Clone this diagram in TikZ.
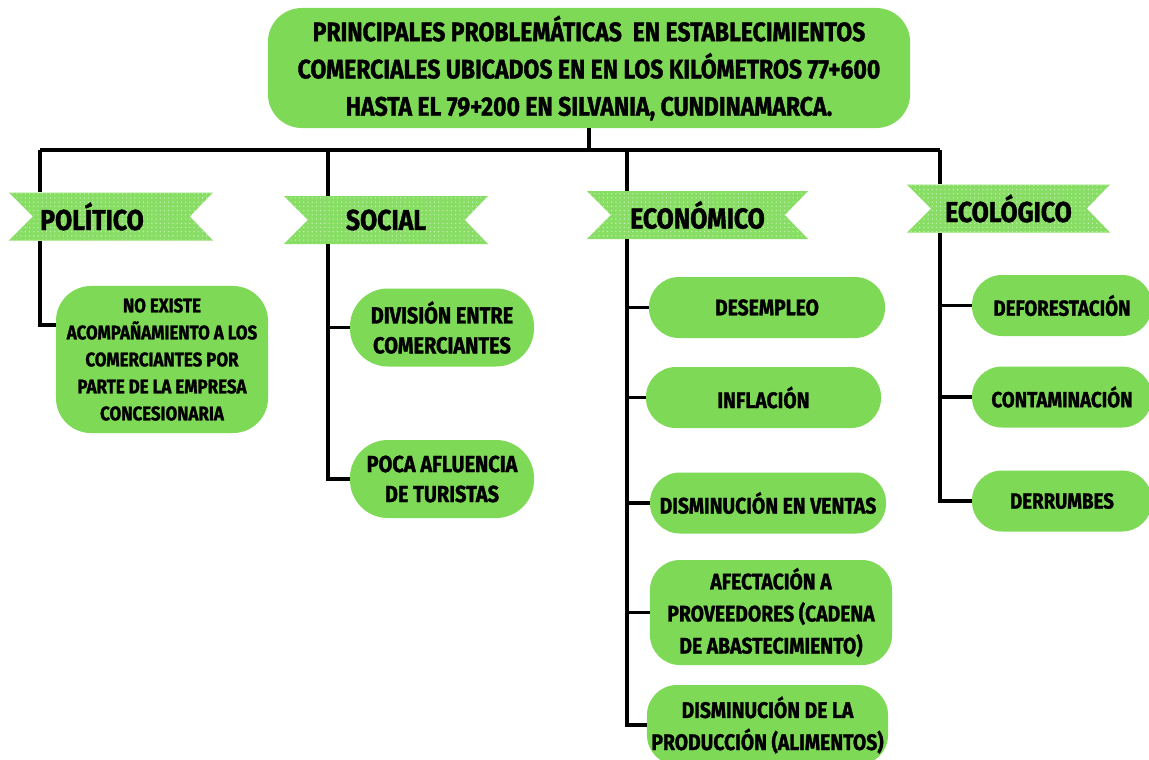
\documentclass[tikz,border=0pt]{standalone}
\usepackage{fontspec}
\usetikzlibrary{patterns}
\newfontfamily\probfont{Fira Sans}[FakeStretch=0.86, BoldFeatures={FakeBold=1.3}]
\definecolor{boxgreen}{RGB}{126,217,87}
\definecolor{bandgreen}{RGB}{136,222,100}

\tikzset{
  branch/.style={line width=2.6pt, black},
  topbox/.style={fill=boxgreen, rounded corners=0.85cm, minimum width=16.05cm, minimum height=3cm,
    align=center, font=\probfont\bfseries\fontsize{19}{26.5}\selectfont},
  band/.style={minimum height=1.2cm, font=\probfont\bfseries\fontsize{20.5}{24}\selectfont,
    path picture={
      \fill[bandgreen, postaction={pattern=dots, pattern color=white!55!bandgreen}]
        (path picture bounding box.north west) -- (path picture bounding box.north east)
        -- ([xshift=-0.58cm]path picture bounding box.east) -- (path picture bounding box.south east)
        -- (path picture bounding box.south west) -- ([xshift=0.6cm]path picture bounding box.west) -- cycle;
    }},
  item/.style={fill=boxgreen, align=center, inner sep=2pt},
  polbox/.style={item, rounded corners=0.875cm, minimum width=5.3cm, minimum height=3.675cm,
    font=\probfont\bfseries\fontsize{14}{19.2}\selectfont},
  socbox/.style={item, rounded corners=0.95cm, minimum width=4.6cm, minimum height=1.95cm,
    font=\probfont\bfseries\fontsize{16.5}{21.3}\selectfont},
  ecobox/.style={item, rounded corners=0.75cm, minimum height=1.525cm,
    font=\probfont\bfseries\fontsize{16}{22.8}\selectfont},
  eclbox/.style={item, rounded corners=0.75cm, minimum width=4.5cm, minimum height=1.525cm,
    font=\probfont\bfseries\fontsize{15.5}{20}\selectfont},
}

\begin{document}
\begin{tikzpicture}[x=0.025cm, y=-0.025cm]
        \path[use as bounding box, fill=white] (0,0) rectangle (1149,759);

        % Title
        \node[topbox] (title) at (589,68) {PRINCIPALES PROBLEMÁTICAS\ \ EN ESTABLECIMIENTOS\\COMERCIALES UBICADOS EN EN LOS KILÓMETROS 77+600\\HASTA EL 79+200 EN SILVANIA, CUNDINAMARCA.};

        % Banners
        \node[band, minimum width=5.1cm] (pol) at (111,216.5) {POLÍTICO\hspace*{0.95cm}};
        \node[band, minimum width=5.1cm] (soc) at (386,220) {SOCIAL};
        \node[band, minimum width=5.525cm] (eco) at (697.5,215) {ECONÓMICO};
        \node[band, minimum width=5.075cm] (ecl) at (1008.5,208.5) {ECOLÓGICO};

        % Boxes
        \node[polbox] (nopol) at (162,359.5) {NO EXISTE\\ACOMPAÑAMIENTO A LOS\\COMERCIANTES POR\\PARTE DE LA EMPRESA\\CONCESIONARIA};
        \node[socbox] (soc1) at (442,327.5) {DIVISIÓN ENTRE\\COMERCIANTES};
        \node[socbox] (soc2) at (442,479) {POCA AFLUENCIA\\DE TURISTAS};
        \node[ecobox, minimum width=5.9cm] (eco1) at (767,307.5) {DESEMPLEO};
        \node[ecobox, minimum width=5.875cm] (eco2) at (763.5,397.5) {INFLACIÓN};
        \node[ecobox, minimum width=5.9cm] (eco3) at (768,503) {DISMINUCIÓN EN VENTAS};
        \node[ecobox, minimum width=6.05cm, minimum height=2.625cm] (eco4) at (771,612.5) {AFECTACIÓN A\\PROVEEDORES (CADENA\\DE ABASTECIMIENTO)};
        \node[ecobox, minimum width=6.025cm, minimum height=2.0cm] (eco5) at (767.5,725) {DISMINUCIÓN DE LA\\PRODUCCIÓN (ALIMENTOS)};
        \node[eclbox] (ecl1) at (1062,305.5) {DEFORESTACIÓN};
        \node[eclbox] (ecl2) at (1062,397) {CONTAMINACIÓN};
        \node[eclbox] (ecl3) at (1062,501) {DERRUMBES};

        % Bus
        \coordinate (bpol) at (40,150);
        \coordinate (bsoc) at (328,150);
        \coordinate (beco) at (627,150);
        \coordinate (becl) at (940,150);
        \draw[branch] (title.south) -- (title.south |- bpol);
        \draw[branch] (bpol) -- (becl);
        \draw[branch] (bpol) -- (bpol |- pol.north);
        \draw[branch] (bsoc) -- (bsoc |- soc.north);
        \draw[branch] (beco) -- (beco |- eco.north);
        \draw[branch] (becl) -- (becl |- ecl.north);

        % Branches
        \draw[branch] (bpol |- pol.south) |- ([yshift=0.86cm]nopol.west);
        \draw[branch] (bsoc |- soc.south) |- (soc2.west);
        \draw[branch] (bsoc |- soc1.west) -- (soc1.west);
        \draw[branch] (beco |- eco.south) |- (eco5.west);
        \foreach \n in {eco1,eco2,eco3,eco4}
            \draw[branch] (beco |- \n.west) -- (\n.west);
        \draw[branch] (becl |- ecl.south) |- (ecl3.west);
        \foreach \n in {ecl1,ecl2}
            \draw[branch] (becl |- \n.west) -- (\n.west);
\end{tikzpicture}
\end{document}
